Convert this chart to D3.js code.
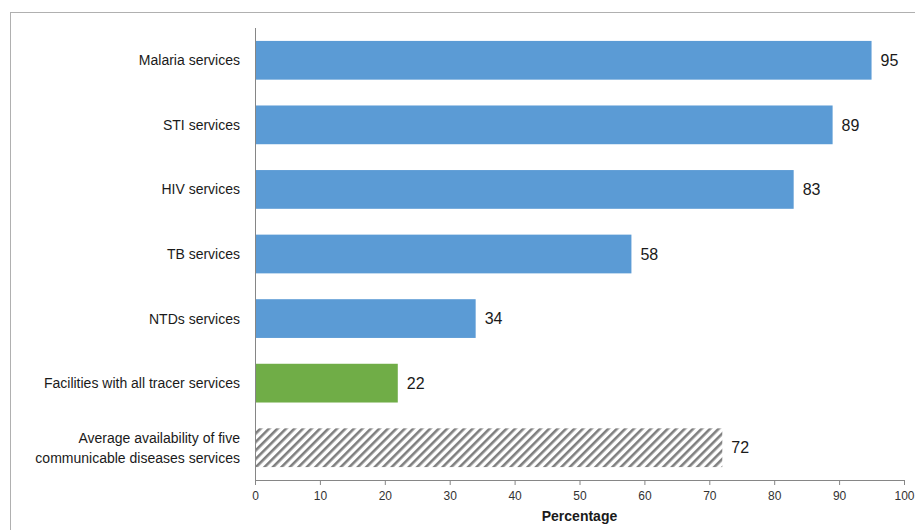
<!DOCTYPE html>
<html>
<head>
<meta charset="utf-8">
<script src="https://cdn.jsdelivr.net/npm/d3@7/dist/d3.min.js"></script>
<style>
  html, body { margin: 0; padding: 0; background: #fff; }
  svg { display: block; }
  text { font-family: "Liberation Sans", Arial, sans-serif; }
</style>
</head>
<body>
<svg id="chart" width="915" height="530"></svg>
<script>
// Service availability, percentage of facilities
const categories = [
  ["Malaria services"],
  ["STI services"],
  ["HIV services"],
  ["TB services"],
  ["NTDs services"],
  ["Facilities with all tracer services"],
  ["Average availability of five", "communicable diseases services"]
];
const values = [95, 89, 83, 58, 34, 22, 72];
const barKinds = ["service", "service", "service", "service", "service", "all", "average"];
const xTicks = [0, 10, 20, 30, 40, 50, 60, 70, 80, 90, 100];
const xTitle = "Percentage";

const svg = d3.select("#chart");
const W = 915, H = 530;
const margin = { left: 255, right: 11, top: 28, bottom: 50 };

// outer frame
svg.append("rect")
  .attr("x", 10.5).attr("y", 12.5)
  .attr("width", 930).attr("height", 540)
  .attr("fill", "none").attr("stroke", "#b0b0b0").attr("stroke-width", 1);

// diagonal hatch for the average bar
const defs = svg.append("defs");
const pat = defs.append("pattern")
  .attr("id", "hatch")
  .attr("patternUnits", "userSpaceOnUse")
  .attr("width", 6).attr("height", 6)
  .attr("patternTransform", "rotate(45)");
pat.append("rect").attr("width", 6).attr("height", 6).attr("fill", "#fff");
pat.append("rect").attr("x", 0).attr("y", 0).attr("width", 2.6).attr("height", 6).attr("fill", "#7f7f7f");

const x = d3.scaleLinear().domain([0, 100]).range([margin.left, W - margin.right]);
const y = d3.scaleBand()
  .domain(d3.range(categories.length))
  .range([margin.top, H - margin.bottom])
  .paddingInner(0.4).paddingOuter(0.2);

const fills = { service: "#5b9bd5", all: "#70ad47", average: "url(#hatch)" };

// bars
svg.append("g").selectAll("rect")
  .data(values)
  .join("rect")
  .attr("x", x(0))
  .attr("y", (d, i) => y(i))
  .attr("width", d => x(d) - x(0))
  .attr("height", y.bandwidth())
  .attr("fill", (d, i) => fills[barKinds[i]]);

// value labels
svg.append("g").selectAll("text")
  .data(values)
  .join("text")
  .attr("x", d => x(d) + 9)
  .attr("y", (d, i) => y(i) + y.bandwidth() / 2)
  .attr("dy", "0.36em")
  .attr("font-size", 16)
  .attr("fill", "#1a1a1a")
  .text(d => d);

// category labels
const catG = svg.append("g");
categories.forEach((lines, i) => {
  const cy = y(i) + y.bandwidth() / 2;
  const lh = 20;
  const t = catG.append("text")
    .attr("text-anchor", "end")
    .attr("font-size", 14)
    .attr("fill", "#1a1a1a");
  lines.forEach((ln, k) => {
    t.append("tspan")
      .attr("x", 240)
      .attr("y", cy + (k - (lines.length - 1) / 2) * lh)
      .attr("dy", "0.36em")
      .text(ln);
  });
});

// x axis
const xAxis = d3.axisBottom(x).tickValues(xTicks).tickSize(5).tickPadding(6).tickSizeOuter(0);
const gx = svg.append("g")
  .attr("transform", `translate(0,${H - margin.bottom})`)
  .call(xAxis);
gx.select(".domain").attr("stroke", "#868686");
gx.selectAll(".tick line").attr("stroke", "#868686");
gx.selectAll(".tick text")
  .attr("font-size", 12)
  .attr("fill", "#333")
  .attr("font-family", "Liberation Sans, Arial, sans-serif");

// y axis line
svg.append("line")
  .attr("x1", x(0) + 0.5).attr("x2", x(0) + 0.5)
  .attr("y1", margin.top).attr("y2", H - margin.bottom)
  .attr("stroke", "#868686");

// axis title
svg.append("text")
  .attr("x", x(50))
  .attr("y", 521)
  .attr("text-anchor", "middle")
  .attr("font-size", 14)
  .attr("font-weight", "bold")
  .attr("fill", "#1a1a1a")
  .text(xTitle);
</script>
</body>
</html>
